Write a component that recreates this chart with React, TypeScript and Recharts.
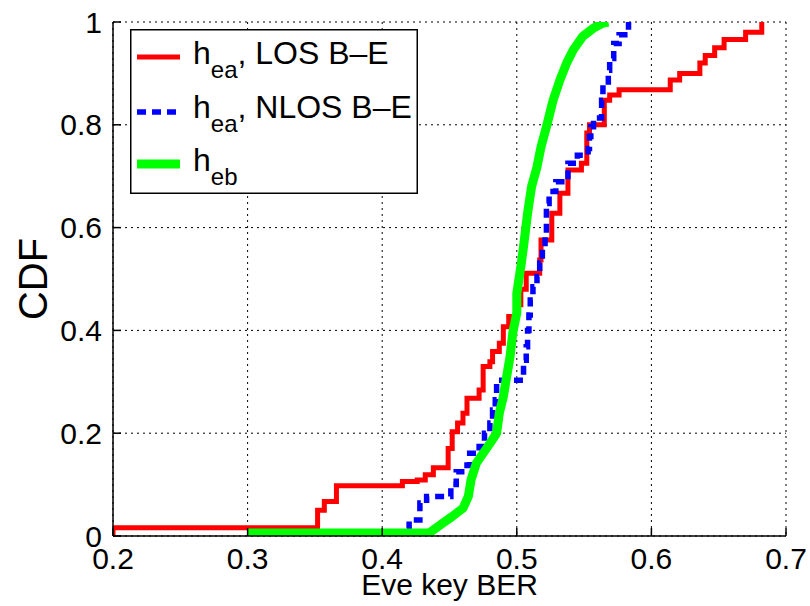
import { LineChart, Line, XAxis, YAxis, CartesianGrid, Legend } from "recharts";

// CDF of Eve key BER
const losX = [0.2, 0.2, 0.352, 0.357, 0.366, 0.415, 0.426, 0.432, 0.438, 0.449, 0.452, 0.456, 0.46, 0.463, 0.472, 0.475, 0.48, 0.482, 0.487, 0.49, 0.494, 0.5, 0.503, 0.507, 0.517, 0.518, 0.526, 0.532, 0.538, 0.548, 0.552, 0.554, 0.565, 0.569, 0.576, 0.614, 0.621, 0.636, 0.64, 0.647, 0.654, 0.67, 0.682];
const losY = [0, 0.016, 0.05, 0.067, 0.098, 0.106, 0.109, 0.119, 0.133, 0.17, 0.203, 0.22, 0.239, 0.268, 0.284, 0.33, 0.339, 0.359, 0.375, 0.407, 0.427, 0.45, 0.48, 0.511, 0.537, 0.576, 0.628, 0.667, 0.712, 0.725, 0.784, 0.8, 0.848, 0.858, 0.868, 0.887, 0.9, 0.92, 0.935, 0.95, 0.966, 0.98, 1.0];

const nlosX = [0.413, 0.417, 0.42, 0.428, 0.433, 0.451, 0.455, 0.463, 0.465, 0.472, 0.476, 0.48, 0.482, 0.484, 0.485, 0.505, 0.507, 0.508, 0.509, 0.51, 0.512, 0.515, 0.517, 0.519, 0.521, 0.522, 0.524, 0.529, 0.538, 0.545, 0.553, 0.554, 0.555, 0.557, 0.563, 0.564, 0.568, 0.569, 0.572, 0.576, 0.583];
const nlosY = [0, 0.015, 0.031, 0.064, 0.077, 0.1, 0.125, 0.138, 0.161, 0.174, 0.2, 0.22, 0.245, 0.265, 0.303, 0.342, 0.368, 0.4, 0.43, 0.459, 0.485, 0.505, 0.531, 0.56, 0.589, 0.647, 0.67, 0.689, 0.725, 0.741, 0.754, 0.777, 0.796, 0.813, 0.848, 0.877, 0.906, 0.929, 0.958, 0.975, 1.0];

const ebX = [0.3, 0.435, 0.445, 0.452, 0.46, 0.464, 0.466, 0.47, 0.475, 0.48, 0.485, 0.487, 0.49, 0.492, 0.495, 0.497, 0.5, 0.5, 0.503, 0.505, 0.508, 0.511, 0.515, 0.518, 0.522, 0.527, 0.532, 0.537, 0.542, 0.549, 0.557, 0.564, 0.568];
const ebY = [0.006, 0.006, 0.025, 0.038, 0.054, 0.077, 0.109, 0.142, 0.161, 0.18, 0.2, 0.239, 0.271, 0.303, 0.349, 0.395, 0.434, 0.472, 0.524, 0.563, 0.628, 0.68, 0.718, 0.757, 0.796, 0.848, 0.887, 0.92, 0.946, 0.972, 0.988, 0.998, 1.0];

const xTicks = [0.2, 0.3, 0.4, 0.5, 0.6, 0.7];
const yTicks = [0, 0.2, 0.4, 0.6, 0.8, 1];

const legendSub = ["ea", "ea", "eb"];
const legendRest = [", LOS B\u2013E", ", NLOS B\u2013E", ""];

const toPoints = (xs: number[], ys: number[]) => xs.map((x, i) => ({ x, y: ys[i] }));

const FONT = "'Liberation Sans', Arial, Helvetica, sans-serif";
const tickStyle = { fontSize: 30, fill: "#000", fontFamily: FONT };
const fmtY = (v: number) => (v === 0 || v === 1 ? String(v) : v.toFixed(1));

const series = [
  { color: "#ff0000", width: 5, dash: undefined as string | undefined },
  { color: "#0000ff", width: 5.5, dash: "9 6" },
  { color: "#00ff00", width: 9, dash: undefined as string | undefined },
];

function LegendBox() {
  const rowLine = [28, 83, 135];
  const rowText = [35, 89, 142];
  return (
    <svg width={288} height={165} style={{ display: "block" }}>
      <rect x={0.75} y={0.75} width={286.5} height={163.5} fill="#fff" stroke="#000" strokeWidth={1.5} />
      {series.map((s, i) => (
        <g key={i}>
          <line x1={7} x2={50} y1={rowLine[i]} y2={rowLine[i]} stroke={s.color} strokeWidth={s.width} strokeDasharray={s.dash} />
          <text x={63} y={rowText[i]} fontSize={32} fontFamily={FONT} fill="#000">
            h
            <tspan fontSize={24} dy={14}>{legendSub[i]}</tspan>
            <tspan dy={-14}>{legendRest[i]}</tspan>
          </text>
        </g>
      ))}
    </svg>
  );
}

export default function App() {
  return (
    <div style={{ position: "absolute", left: 0, top: 0, width: 810, height: 606, background: "#fff" }}>
      <LineChart width={810} height={606} margin={{ top: 22, right: 24, bottom: 0, left: 13 }}>
        <CartesianGrid stroke="#000" strokeDasharray="2 4" strokeWidth={1} horizontalValues={yTicks} verticalValues={xTicks} />
        <XAxis
          dataKey="x"
          type="number"
          domain={[0.2, 0.7]}
          ticks={xTicks}
          height={70}
          tick={tickStyle}
          tickSize={-8}
          tickMargin={20}
          stroke="#000"
          strokeWidth={1.5}
          allowDataOverflow
          label={{
            content: ({ viewBox }: any) => (
              <text x={viewBox.x + viewBox.width / 2} y={viewBox.y + 59} textAnchor="middle" fontSize={30} fontFamily={FONT} fill="#000">
                Eve key BER
              </text>
            ),
          }}
        />
        <XAxis xAxisId="top" orientation="top" dataKey="x" type="number" domain={[0.2, 0.7]} ticks={xTicks} height={0} tickSize={-8} tickFormatter={() => ""} stroke="#000" strokeWidth={1.5} allowDataOverflow />
        <YAxis
          type="number"
          domain={[0, 1]}
          ticks={yTicks}
          width={100}
          tick={tickStyle}
          tickFormatter={fmtY}
          tickSize={-8}
          tickMargin={19}
          stroke="#000"
          strokeWidth={1.5}
          allowDataOverflow
          label={{
            content: ({ viewBox }: any) => {
              const cx = viewBox.x + 20;
              const cy = viewBox.y + viewBox.height / 2;
              return (
                <text x={cx} y={cy} transform={`rotate(-90 ${cx} ${cy})`} textAnchor="middle" dominantBaseline="central" fontSize={40} fontFamily={FONT} fill="#000">
                  CDF
                </text>
              );
            },
          }}
        />
        <YAxis yAxisId="right" orientation="right" type="number" domain={[0, 1]} ticks={yTicks} width={0} tickSize={-8} tickFormatter={() => ""} stroke="#000" strokeWidth={1.5} allowDataOverflow />
        <Line data={toPoints(losX, losY)} dataKey="y" type="stepAfter" stroke={series[0].color} strokeWidth={series[0].width} dot={false} isAnimationActive={false} />
        <Line data={toPoints(nlosX, nlosY)} dataKey="y" type="stepAfter" stroke={series[1].color} strokeWidth={series[1].width} strokeDasharray={series[1].dash} dot={false} isAnimationActive={false} />
        <Line data={toPoints(ebX, ebY)} dataKey="y" type="linear" stroke={series[2].color} strokeWidth={series[2].width} strokeLinejoin="round" dot={false} isAnimationActive={false} />
        <Legend
          layout="vertical"
          align="center"
          verticalAlign="middle"
          wrapperStyle={{ left: 130, top: 29, width: 288, height: 165 }}
          content={() => <LegendBox />}
        />
      </LineChart>
    </div>
  );
}
